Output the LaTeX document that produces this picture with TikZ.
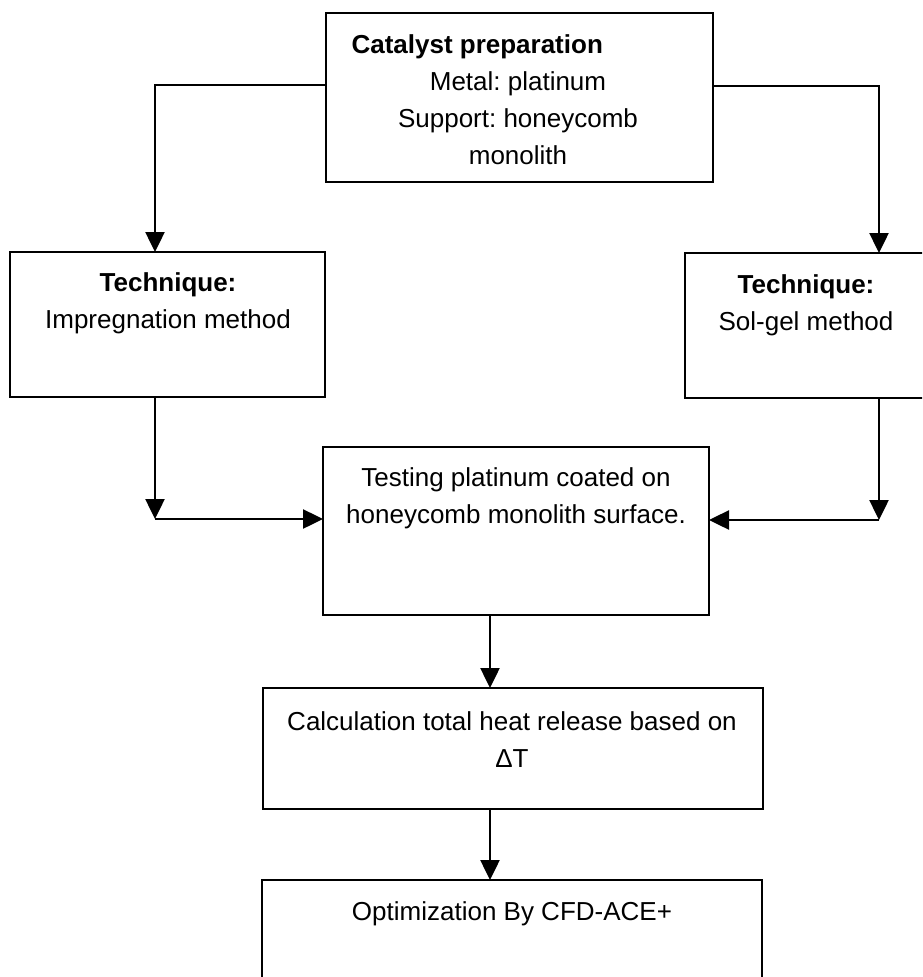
\documentclass[tikz,border=0pt]{standalone}
\usepackage{fontspec}
\setmainfont{Liberation Sans}
\usepackage{tikz}
\usetikzlibrary{arrows.meta,positioning}
\frenchspacing

\tikzset{
  box/.style={draw, black, line width=2.6pt, inner sep=0pt, outer sep=0pt, anchor=north west},
  txt/.style={font=\fontsize{26}{37}\selectfont, align=center, anchor=base},
  arr/.style={-{Triangle[width=19pt,length=20pt]}, line width=2.5pt},
}

\begin{document}
\begin{tikzpicture}[x=1pt,y=-1pt]
                \clip (0,0) rectangle (922,977);

                % boxes
                \node[box, minimum width=387pt, minimum height=169pt] (prep) at (326,13) {};
                \node[box, minimum width=315pt, minimum height=145pt] (imp) at (10,252) {};
                \node[box, minimum width=243pt, minimum height=145pt] (sol) at (685,253) {};
                \node[box, minimum width=386pt, minimum height=168pt] (test) at (323,447) {};
                \node[box, minimum width=500pt, minimum height=121pt] (calc) at (263,688) {};
                \node[box, minimum width=500pt, minimum height=115pt] (opt) at (262,880) {};

                % texts (base = last line)
                \node[txt, anchor=base west] (prepH) at (348,53) {\bfseries Catalyst preparation};
                \node[txt] (prepT) at (518,164) {Metal: platinum\\Support: honeycomb\\monolith};
                \node[txt] (impT) at (168,328) {\textbf{Technique:}\\Impregnation method};
                \node[txt] (solT) at (806,330) {\textbf{Technique:}\\Sol-gel method};
                \node[txt] (testT) at (516,523) {Testing platinum coated on\\honeycomb monolith surface.};
                \node[txt] (calcT) at (512,767) {Calculation total heat release based on\\ΔT};
                \node[txt] (optT) at (512,920) {Optimization By CFD-ACE+};

                % corners of the connectors
                \coordinate (ltop) at (155,85);
                \coordinate (rtop) at (879,86);
                \coordinate (lturn) at (155,519);
                \coordinate (rturn) at (879,520);
                \coordinate (mid) at (490,0);

                \draw[arr] (ltop -| prep.west) -- (ltop) -- (ltop |- imp.north);
                \draw[arr] (rtop -| prep.east) -- (rtop) -- (rtop |- sol.north);
                \draw[arr] (imp.south -| lturn) -- (lturn);
                \draw[arr] (lturn) -- (lturn -| test.west);
                \draw[arr] (sol.south -| rturn) -- (rturn);
                \draw[arr] (rturn) -- (rturn -| test.east);
                \draw[arr] (test.south -| mid) -- (calc.north -| mid);
                \draw[arr] (calc.south -| mid) -- (opt.north -| mid);
                \end{tikzpicture}
\end{document}
